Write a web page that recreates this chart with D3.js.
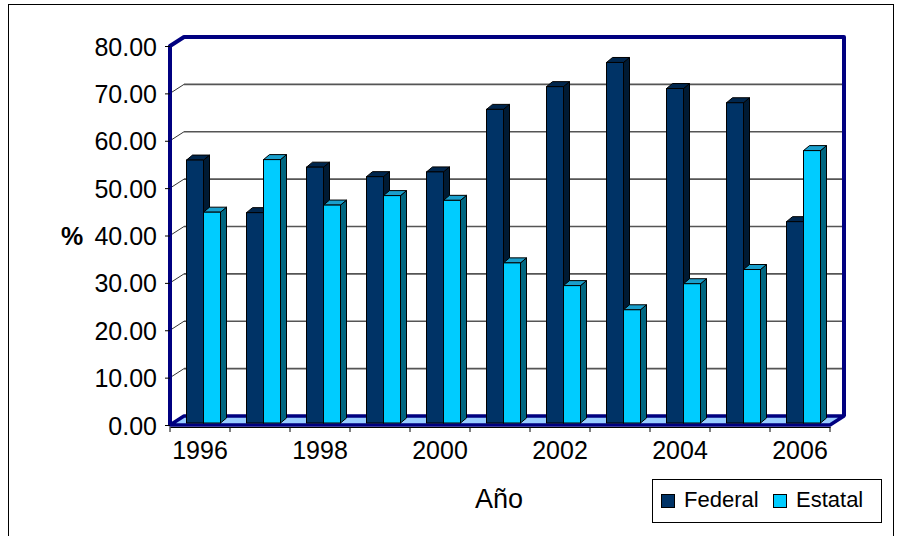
<!DOCTYPE html>
<html><head><meta charset="utf-8">
<script src="https://cdn.jsdelivr.net/npm/d3@7"></script>
<style>body{margin:0;background:#fff}svg{display:block}text{font-family:"Liberation Sans",Arial,sans-serif;fill:#000}</style>
</head><body>
<script>
const years = [1996,1997,1998,1999,2000,2001,2002,2003,2004,2005,2006];
const seriesNames = ["Federal","Estatal"];
const federal = [55.5,44.4,54.0,52.0,53.0,66.2,71.0,76.1,70.6,67.6,42.5];
const estatal = [44.5,55.6,46.0,48.0,47.0,33.8,29.0,23.9,29.4,32.4,57.5];
const yTicks = [0,10,20,30,40,50,60,70,80];
const yearLabels = [1996,1998,2000,2002,2004,2006];

const W=900,H=536;
const svg=d3.select("body").append("svg").attr("width",W).attr("height",H);
svg.append("rect").attr("x",8.5).attr("y",4.5).attr("width",885).attr("height",560).attr("fill","#fff").attr("stroke","#000").attr("stroke-width",1);

const x=d3.scaleBand().domain(years).range([170,830]).padding(0);
const y=d3.scaleLinear().domain([0,80]).range([425,46]);
const inner=d3.scaleBand().domain(seriesNames).range([16.5,50.5]).padding(0);
const DX=14, DY=-9; // wall depth
const BDX=6, BDY=-5, BOFF=-2; // bar depth

const x0=x.range()[0], x1=x.range()[1];
const navy="#000080";
// side wall
svg.append("polygon").attr("points",[[x0,y(80)],[x0+DX,y(80)+DY],[x0+DX,y(0)+DY],[x0,y(0)]].join(" ")).attr("fill","#fff");
// floor
svg.append("polygon").attr("points",[[x0,y(0)],[x0+DX,y(0)+DY],[x1+DX,y(0)+DY],[x1,y(0)]].join(" ")).attr("fill","#99ccff");
// back wall gridlines
svg.append("g").selectAll("line").data(yTicks.filter(v=>v>0&&v<80)).join("line")
  .attr("x1",x0+DX).attr("x2",x1+DX).attr("y1",d=>y(d)+DY).attr("y2",d=>y(d)+DY)
  .attr("stroke","#555").attr("stroke-width",1.6);
// side wall gridlines
svg.append("g").selectAll("line").data(yTicks.filter(v=>v>0&&v<80)).join("line")
  .attr("x1",x0).attr("x2",x0+DX).attr("y1",d=>y(d)).attr("y2",d=>y(d)+DY)
  .attr("stroke","#000").attr("stroke-width",0.8);
// navy frame
const fr=svg.append("g").attr("fill","none").attr("stroke",navy).attr("stroke-width",4).attr("stroke-linejoin","round");
fr.append("path").attr("d",`M${x0},${y(0)}L${x0},${y(80)}L${x0+DX},${y(80)+DY}L${x1+DX},${y(80)+DY}L${x1+DX},${y(0)+DY}`);
fr.append("path").attr("d",`M${x0},${y(0)}L${x0+DX},${y(0)+DY}L${x1+DX},${y(0)+DY}L${x1},${y(0)}Z`).attr("stroke-width",3.5);

// bars
const data=[];
years.forEach((yr,i)=>{
  data.push({yr,s:"Federal",v:federal[i]});
  data.push({yr,s:"Estatal",v:estatal[i]});
});
const col={Federal:{f:"#003366",t:"#00264d",sd:"#001a33"},Estatal:{f:"#00ccff",t:"#1a9fcc",sd:"#006680"}};
const bars=svg.append("g").selectAll("g").data(data).join("g");
bars.each(function(d){
  const g=d3.select(this);
  const bx=x(d.yr)+inner(d.s), bw=inner.bandwidth();
  const yt=y(d.v)+BOFF, yb=y(0)+BOFF;
  const c=col[d.s];
  g.append("polygon").attr("points",[[bx+bw,yt],[bx+bw+BDX,yt+BDY],[bx+bw+BDX,yb+BDY],[bx+bw,yb]].join(" "))
    .attr("fill",c.sd).attr("stroke","#000").attr("stroke-width",1).attr("stroke-linejoin","round");
  g.append("polygon").attr("points",[[bx,yt],[bx+BDX,yt+BDY],[bx+bw+BDX,yt+BDY],[bx+bw,yt]].join(" "))
    .attr("fill",c.t).attr("stroke","#000").attr("stroke-width",1).attr("stroke-linejoin","round");
  g.append("rect").attr("x",bx).attr("y",yt).attr("width",bw).attr("height",yb-yt)
    .attr("fill",c.f).attr("stroke","#000").attr("stroke-width",1);
});

// y axis
const ya=svg.append("g").attr("transform",`translate(${x0},0)`)
  .call(d3.axisLeft(y).tickValues(yTicks).tickFormat(d3.format(".2f")).tickSize(5).tickPadding(8));
ya.select(".domain").remove();
ya.selectAll(".tick text").attr("font-size",25).attr("dy","0.36em");
ya.selectAll(".tick line").attr("stroke","#000");

// x axis
const xa=svg.append("g").attr("transform",`translate(0,${y(0)+2})`)
  .call(d3.axisBottom(x).tickSize(0).tickPadding(14).tickFormat(d=>yearLabels.includes(d)?String(d):""));
xa.select(".domain").attr("stroke","#000");
xa.selectAll(".tick text").attr("font-size",25).attr("dy","0.71em");
xa.selectAll("line.bt").data(years.concat([null])).join("line").attr("class","bt")
  .attr("x1",(d,i)=>i<years.length?x(d):x1).attr("x2",(d,i)=>i<years.length?x(d):x1)
  .attr("y1",0).attr("y2",5).attr("stroke","#000");

// axis titles
svg.append("text").attr("x",72).attr("y",236).attr("dy","0.36em").attr("text-anchor","middle")
  .attr("font-size",25).attr("font-weight","bold").text("%");
svg.append("text").attr("x",499).attr("y",508).attr("text-anchor","middle").attr("font-size",27).text("Año");

// legend
const lg=svg.append("g");
lg.append("rect").attr("x",652.5).attr("y",479.5).attr("width",229).attr("height",43).attr("fill","#fff").attr("stroke","#000");
const lx={Federal:661,Estatal:773};
seriesNames.forEach(s=>{
  lg.append("rect").attr("x",lx[s]+0.5).attr("y",494.5).attr("width",13).attr("height",13).attr("fill",col[s].f).attr("stroke","#000");
  lg.append("text").attr("x",lx[s]+23).attr("y",507).attr("font-size",22).text(s);
});
</script>
</body></html>
